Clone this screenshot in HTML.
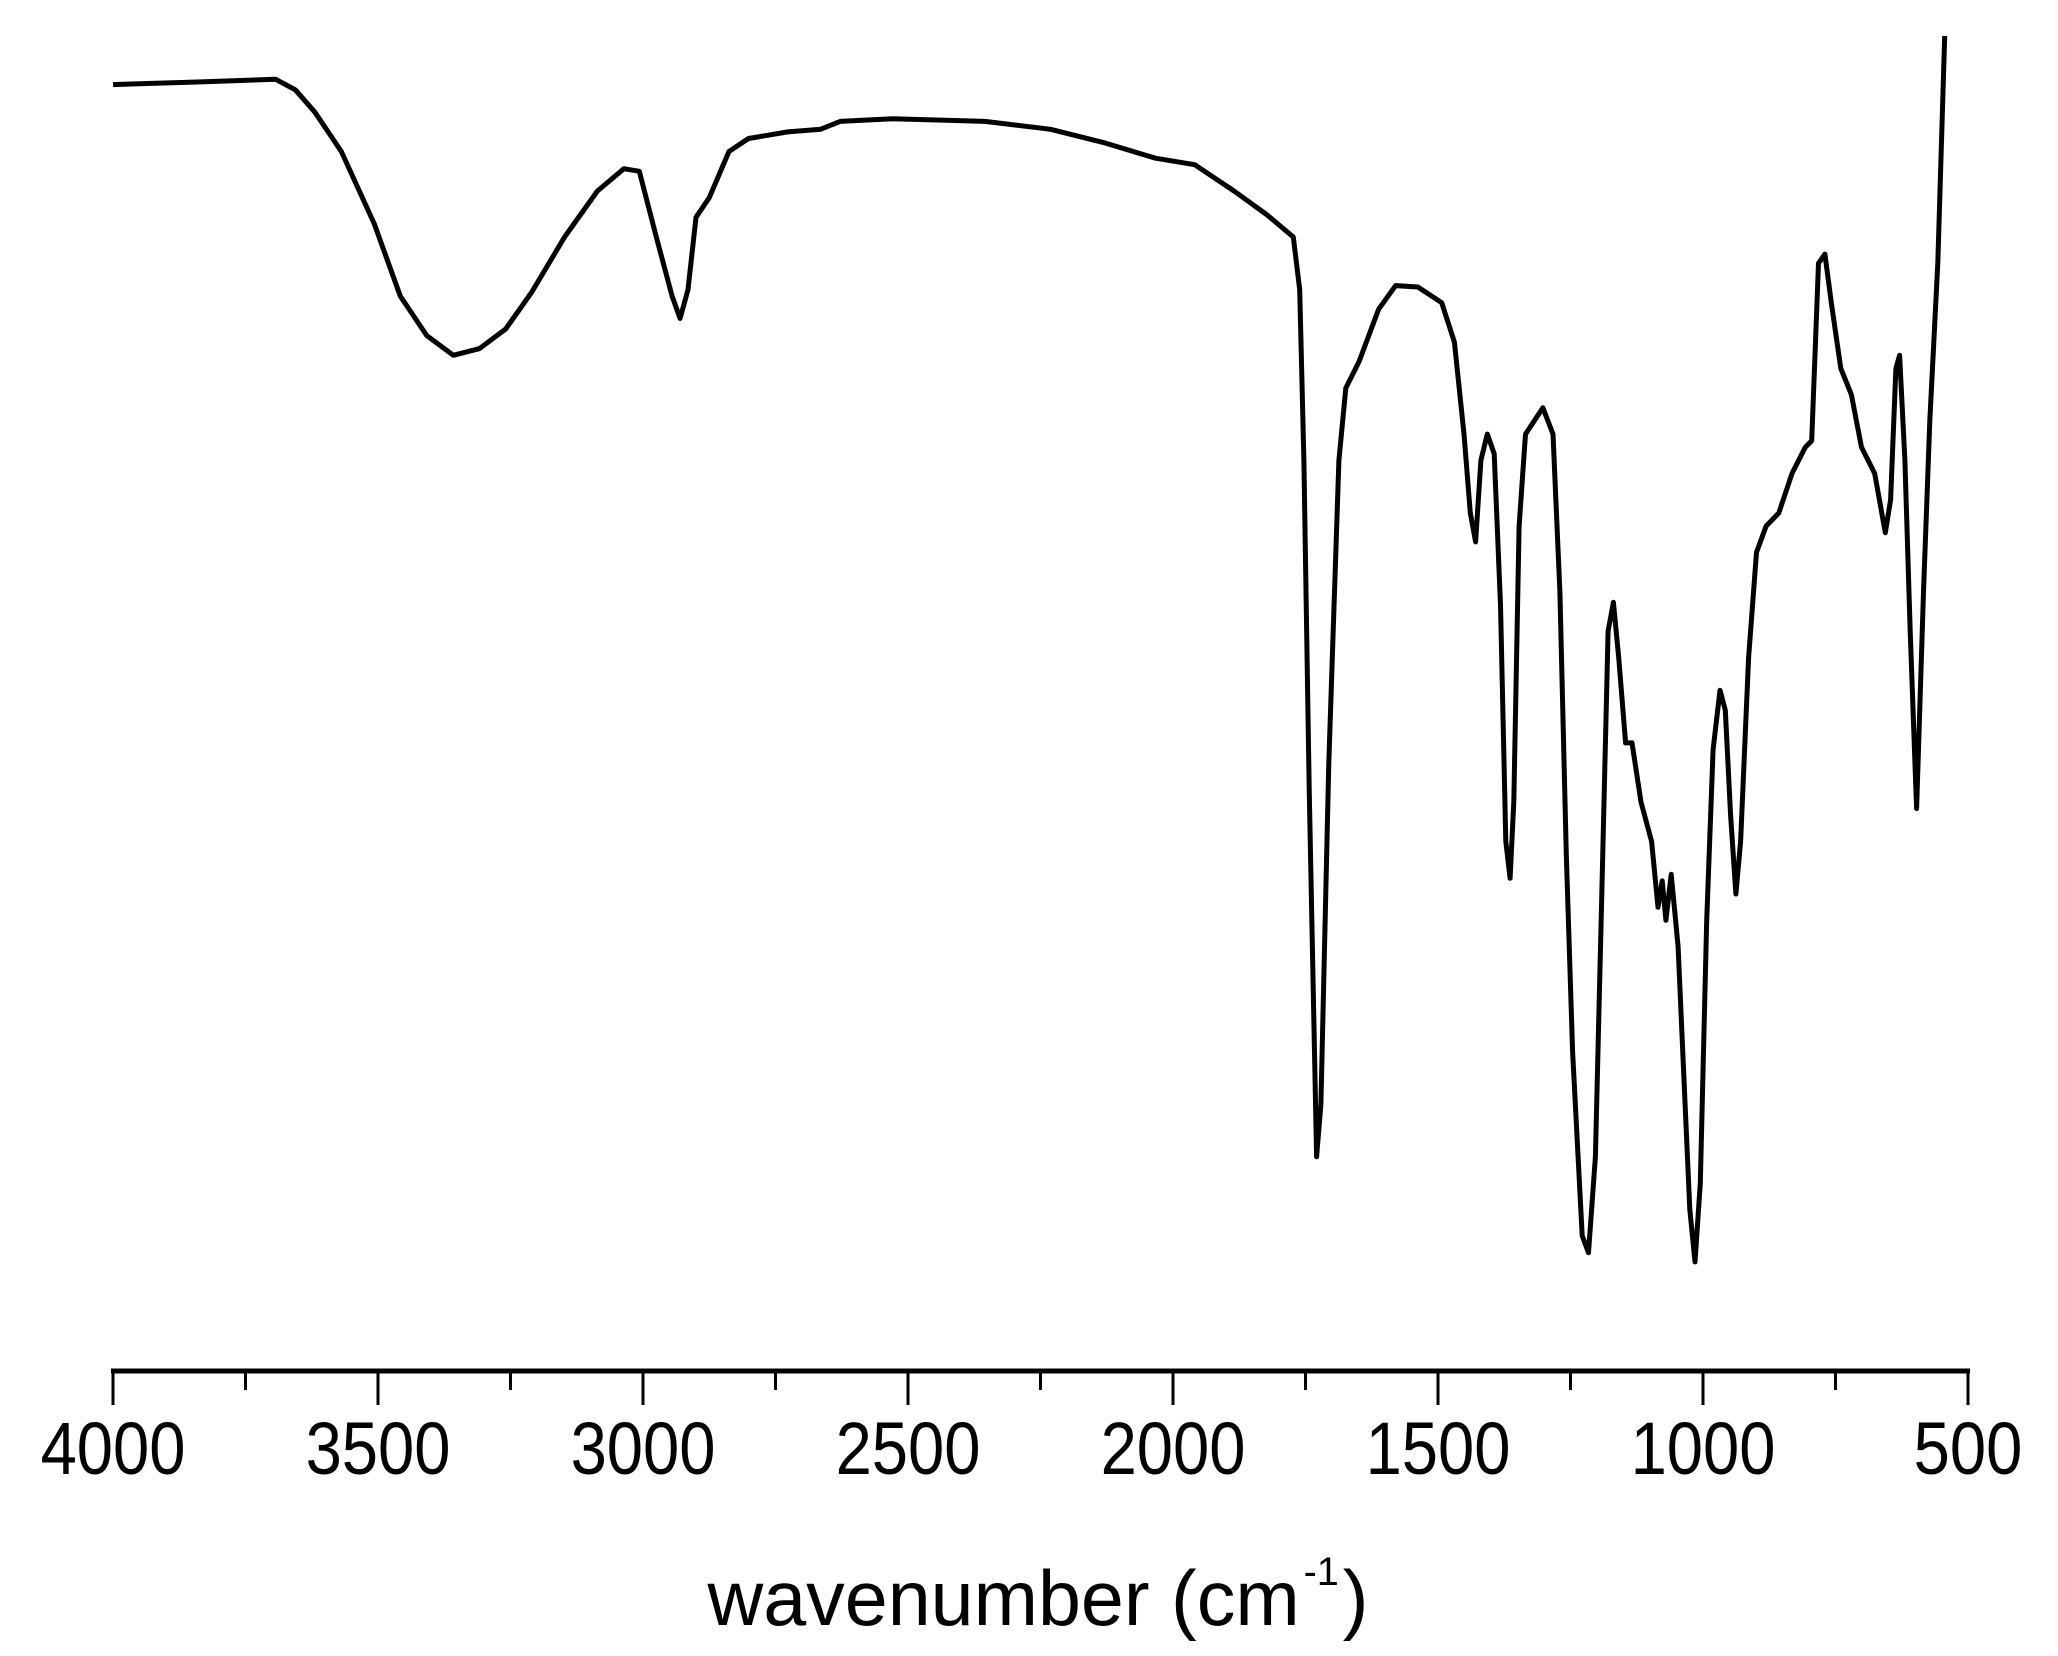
<!DOCTYPE html>
<html><head><meta charset="utf-8"><style>
html,body{margin:0;padding:0;background:#fff;}
svg{display:block;font-family:"Liberation Sans",Arial,sans-serif;}
</style></head><body>
<svg id="chart" width="2058" height="1656" viewBox="0 0 2058 1656" xmlns="http://www.w3.org/2000/svg">
<g id="axis"></g>
<path id="spec" fill="none" stroke="#000" stroke-width="5" stroke-linejoin="round"/>
<text x="1038" y="1625" font-size="78" text-anchor="middle" transform="translate(1038,0) scale(0.99,1) translate(-1038,0)">wavenumber (cm<tspan dx="4" dy="-40" font-size="40">-1</tspan><tspan dx="4" dy="40">)</tspan></text>
</svg>
<script>
const wavenumbers=[4000,3841,3693,3656,3619,3569,3507,3458,3408,3358,3309,3259,3210,3148,3086,3036,3007,2975,2945,2930,2915,2900,2875,2838,2801,2727,2665,2628,2529,2355,2231,2132,2033,1959,1885,1823,1773,1761,1753,1743,1729,1721,1706,1687,1674,1649,1612,1580,1538,1493,1469,1451,1439,1429,1419,1407,1394,1382,1372,1364,1357,1347,1335,1302,1283,1270,1258,1246,1228,1216,1203,1191,1179,1169,1159,1146,1134,1117,1097,1085,1077,1070,1060,1047,1035,1025,1015,1005,993,981,968,958,948,938,929,914,899,881,857,832,807,795,782,770,758,740,720,701,676,656,646,636,629,619,609,597,584,572,557,544];
const transmittance=[97.9,98.1,98.3,97.5,95.8,92.8,87.3,81.8,78.8,77.3,77.8,79.3,82.1,86.3,89.8,91.5,91.3,86.3,81.8,80.1,82.3,87.8,89.3,92.8,93.8,94.3,94.5,95.1,95.3,95.1,94.5,93.5,92.3,91.8,89.8,88,86.3,82.3,69.3,44.3,16.3,20.3,46.3,69.3,74.8,76.8,80.8,82.6,82.5,81.3,78.3,71.3,65.3,63.1,69.3,71.3,69.8,58.3,40.3,37.5,43.3,64.3,71.3,73.3,71.3,59.3,39.3,24.3,10.3,9,16.3,36.3,56.3,58.5,54.3,47.8,47.8,43.3,40.3,35.3,37.3,34.3,37.8,32.3,21.3,12.3,8.3,14.3,34.3,47.3,51.8,50.3,42.3,36.3,40.3,54.3,62.3,64.3,65.3,68.3,70.3,70.8,84.3,85,81.3,76.3,74.3,70.3,68.3,63.8,66.3,76.3,77.3,69.3,56.3,42.8,59.3,72.3,84.3,101.6];
const majorTicks=[4000,3500,3000,2500,2000,1500,1000,500];
const minorTicks=[3750,3250,2750,2250,1750,1250,750];
const X0=113,X1=1968,AXY=1371;
function xs(w){return X0+(4000-w)*(X1-X0)/3500;}
function ys(t){return AXY-t*13.14;}
const NS="http://www.w3.org/2000/svg";
const ax=document.getElementById('axis');
function ln(x1,y1,x2,y2,w,name){const l=document.createElementNS(NS,'line');
l.setAttribute('x1',x1);l.setAttribute('y1',y1);l.setAttribute('x2',x2);l.setAttribute('y2',y2);
l.setAttribute('stroke','#000');l.setAttribute('stroke-width',w);


ax.appendChild(l);}
ln(X0-2,AXY,X1+2,AXY,5,'x-axis-line');
majorTicks.forEach(v=>{ln(xs(v),AXY,xs(v),AXY+34,3,'major-tick');
const t=document.createElementNS(NS,'text');t.setAttribute('x',xs(v));t.setAttribute('y',AXY+103);
t.setAttribute('font-size','74');t.setAttribute('text-anchor','middle');
t.setAttribute('transform','translate('+xs(v)+',0) scale(0.88,1) translate('+(-xs(v))+',0)');
t.textContent=v;


ax.appendChild(t);});
minorTicks.forEach(v=>ln(xs(v),AXY,xs(v),AXY+19,3,'minor-tick'));
let d='';wavenumbers.forEach((w,i)=>{d+=(i?'L':'M')+xs(w).toFixed(1)+','+ys(transmittance[i]).toFixed(1);});
document.getElementById('spec').setAttribute('d',d);
</script>
</body></html>
